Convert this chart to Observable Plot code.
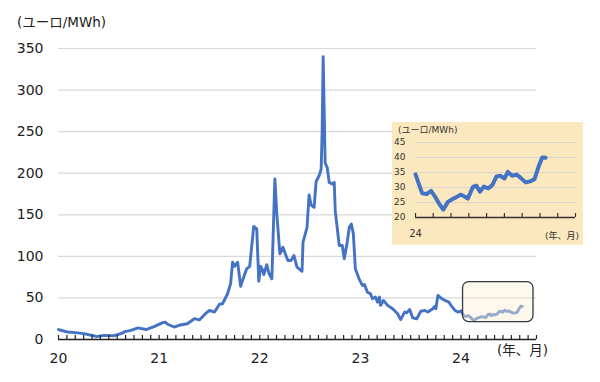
<!DOCTYPE html>
<html><head><meta charset="utf-8">
<script src="https://cdn.jsdelivr.net/npm/d3@7"></script>
<script src="https://cdn.jsdelivr.net/npm/@observablehq/plot@0.6"></script>
<style>
body{margin:0;background:#fff;}
#wrap{position:relative;width:600px;height:382px;font-family:"DejaVu Sans","Noto Sans CJK JP",sans-serif;color:#222;overflow:hidden;}
.abs{position:absolute;white-space:nowrap;line-height:1;}
#main{position:absolute;left:0;top:0;}
#inset{position:absolute;left:392px;top:122px;width:191px;height:123px;background:#fce8bf;color:#333;}
#insetPlot{position:absolute;left:0;top:0;}
</style></head><body>
<div id="wrap">
  <div id="main"></div>
  <div class="abs" style="left:17px;top:16px;font-size:13.5px">(ユーロ/MWh)</div>
  <div class="abs" style="left:497px;top:344px;font-size:13.5px">(年、月)</div>
  <div id="inset">
    <div id="insetPlot"></div>
    <div class="abs" style="left:6px;top:4px;font-size:9px">(ユーロ/MWh)</div>
    <div class="abs" style="left:153px;top:110px;font-size:9px">(年、月)</div>
  </div>
</div>
<script>
// ---- data (year as 2-digit decimal: 20 = Jan 2020) ----
const years2020to23 = [
  20.00,20.09,20.19,20.25,20.35,20.38,20.45,20.55,20.62,20.66,20.72,20.79,20.87,20.95,
  21.03,21.06,21.09,21.15,21.21,21.28,21.35,21.40,21.46,21.50,21.55,21.60,21.63,21.68,21.71,
  21.73,21.75,21.78,21.81,21.84,21.87,21.90,21.94,21.97,21.99,
  22.01,22.03,22.04,22.07,22.09,22.12,22.15,22.17,22.20,22.23,22.26,22.28,22.31,22.34,22.37,
  22.42,22.43,22.47,22.49,22.51,22.54,22.56,22.59,22.61,22.62,22.63,22.65,22.67,22.69,22.72,
  22.74,22.75,22.79,22.82,22.84,22.87,22.89,22.91,22.93,22.95,22.99,
  23.02,23.04,23.07,23.10,23.12,23.15,23.17,23.19,23.20,23.23,23.27,23.32,23.37,23.40,23.44,
  23.46,23.49,23.52,23.56,23.60,23.64,23.67,23.72,23.74,23.75,23.77,23.80,23.84,23.88,23.90,
  23.94,23.97
];
const prices2020to23 = [
  12,9,8,7,4.5,3.5,5,4.5,7,9.5,11,14,12,15.5,
  20,21,18,15,17.5,19,25,23.5,31,35,33,42.5,43,55,67,
  93,88,93,64,75,85,88,136,133,70,
  88,83,78,90,80,73,193,150,103,111,101,95,95,101,87,
  82,117,135,174,162,159,190,197,205,250,340,212,207,189,187,
  189,155,113,113,97,118,135,139,127,85,72,
  65,66,57,55,49,51,45,51,41,47,41,37,31,24,33,
  32,36,26,25,34,35,33,37,40,37,53,50,47,45,41,
  35,33
];
const years2024 = [
  24.000,24.016,24.031,24.052,24.073,24.094,24.109,24.130,24.152,24.172,24.192,24.211,24.230,
  24.245,24.270,24.286,24.302,24.320,24.341,24.360,24.380,24.399,24.417,24.433,24.453,24.474,
  24.493,24.516,24.539,24.558,24.578,24.594,24.610
];
const prices2024 = [
  34.4,31.1,28.1,27.8,28.9,26.7,24.8,22.6,25.2,26.1,26.8,27.6,27.0,
  26.3,30.3,30.6,28.6,30.3,29.7,30.8,33.7,33.9,33.0,35.2,33.9,34.3,
  33.2,31.7,32.1,32.8,37.2,40.0,39.9
];
const mainYTicks = [0,50,100,150,200,250,300,350];
const mainYearTicks = [20,21,22,23,24];
const insetYTicks = [20,25,30,35,40,45];
const insetYearTicks = [24];
const highlightBox = [{x1: 24.02, x2: 24.72, y1: 21, y2: 69}];

// ---- tables built from arrays ----
const main = years2020to23.map((x,i)=>({x, v: prices2020to23[i]}))
  .concat(years2024.map((x,i)=>({x, v: prices2024[i]})));
const inset = years2024.map((x,i)=>({x, v: prices2024[i]}));
const mainMonths = d3.range(0, 58).map(i => 20 + i/12);
const insetMonths = d3.range(0, 10).map(i => 24 + i/12);

const mainPlot = Plot.plot({
  width: 600, height: 382,
  marginLeft: 58, marginRight: 64, marginTop: 48, marginBottom: 43,
  style: {fontFamily: '"DejaVu Sans","Noto Sans CJK JP",sans-serif', fontSize: "14px", color: "#222", background: "transparent"},
  x: {domain: [20, 24.75], label: null},
  y: {domain: [0, 350], label: null},
  marks: [
    Plot.ruleY(mainYTicks.filter(d => d > 0), {stroke: "#d9d9d9", strokeWidth: 1.2}),
    Plot.line(main, {x: "x", y: "v", stroke: "#4472c4", strokeWidth: 2.9, strokeLinejoin: "round", curve: "linear"}),
    Plot.rect(highlightBox, {x1: "x1", x2: "x2", y1: "y1", y2: "y2", fill: "#fbefd2", fillOpacity: 0.45, stroke: "#2e3a4a", strokeWidth: 1.3, rx: 6}),
    Plot.ruleY([0], {stroke: "#222", strokeWidth: 1.3}),
    Plot.axisX(mainMonths, {tickSize: -4, tickFormat: () => "", strokeWidth: 1.2}),
    Plot.axisX(mainYearTicks, {tickSize: 0, tickPadding: 14, tickFormat: d => String(d), fontSize: 14, label: null}),
    Plot.axisY(mainYTicks, {tickSize: 0, tickPadding: 15, fontSize: 14, label: null})
  ]
});
document.getElementById("main").appendChild(mainPlot);

const insetPlot = Plot.plot({
  width: 191, height: 123,
  marginLeft: 23, marginRight: 8, marginTop: 20, marginBottom: 28,
  style: {fontFamily: '"DejaVu Sans","Noto Sans CJK JP",sans-serif', fontSize: "9px", color: "#333", background: "transparent"},
  x: {domain: [24, 24.75], label: null},
  y: {domain: [20, 45], label: null},
  marks: [
    Plot.ruleY(insetYTicks.filter(d => d > 20), {stroke: "#d9d6cf", strokeWidth: 1.2}),
    Plot.line(inset, {x: "x", y: "v", stroke: "#4472c4", strokeWidth: 4, strokeLinejoin: "round"}),
    Plot.ruleY([20], {stroke: "#333", strokeWidth: 1.3}),
    Plot.axisX(insetMonths, {tickSize: -4, tickFormat: () => "", strokeWidth: 1.2}),
    Plot.axisX(insetYearTicks, {tickSize: 0, tickPadding: 12, tickFormat: d => String(d), fontSize: 10, label: null}),
    Plot.axisY(insetYTicks, {tickSize: 0, tickPadding: 10, fontSize: 9, label: null})
  ]
});
document.getElementById("insetPlot").appendChild(insetPlot);
</script>
</body></html>
